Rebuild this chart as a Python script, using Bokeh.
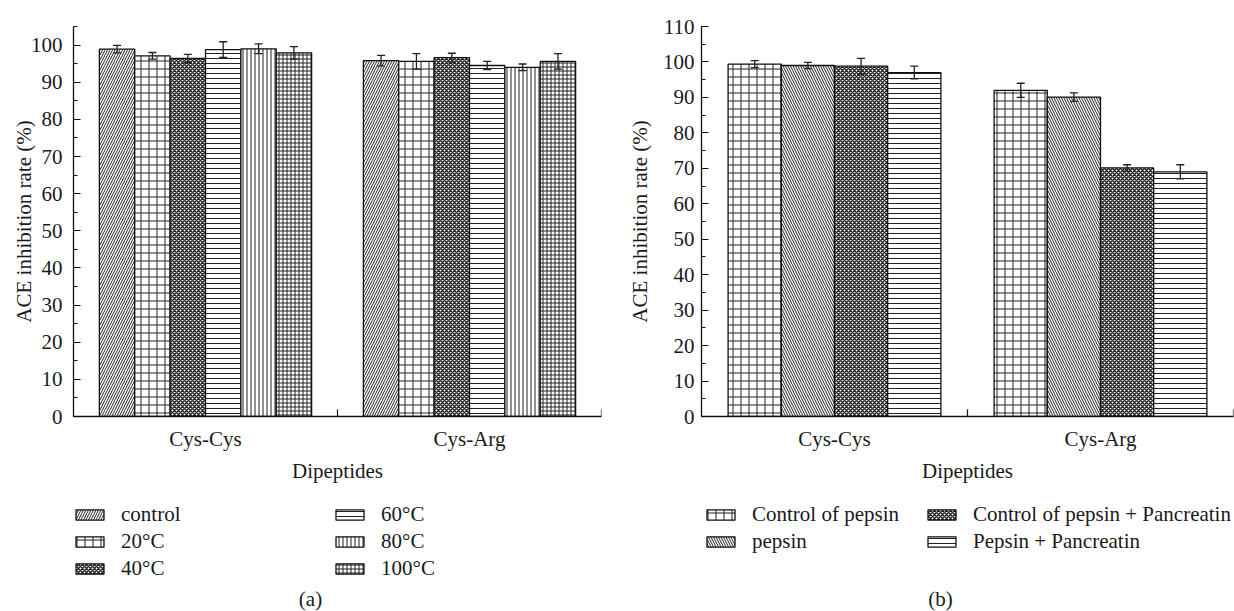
from bokeh.plotting import figure
from bokeh.models import (ColumnDataSource, FactorRange, Range1d, Whisker, TeeHead,
                          Legend, LegendItem, Label, SingleIntervalTicker)
from bokeh.transform import dodge
from bokeh.layouts import row, column
from bokeh.embed import file_html
from bokeh.resources import INLINE

# ---------------- data ----------------
dipeptides = ["Cys-Cys", "Cys-Arg"]

temp_series = ["control", "20°C", "40°C", "60°C", "80°C", "100°C"]
temp_cyscys = [98.9, 97.1, 96.4, 98.8, 99.0, 97.9]
temp_cyscys_err = [1.0, 0.9, 1.1, 2.1, 1.3, 1.7]
temp_cysarg = [95.8, 95.6, 96.6, 94.5, 94.0, 95.6]
temp_cysarg_err = [1.4, 2.1, 1.2, 1.1, 0.9, 2.1]

digest_series = ["Control of pepsin", "pepsin", "Control of pepsin + Pancreatin", "Pepsin + Pancreatin"]
digest_cyscys = [99.4, 99.0, 98.8, 97.0]
digest_cyscys_err = [1.0, 0.9, 2.2, 1.8]
digest_cysarg = [92.0, 90.1, 70.1, 69.0]
digest_cysarg_err = [2.0, 1.2, 0.9, 2.0]

y_label = "ACE inhibition rate (%)"
x_label = "Dipeptides"

FONT = "Liberation Serif"
FS = "21px"
TXT = "#1a1a1a"

# hatch styles (pattern, scale, weight)
temp_hatch = [("/", 5, 1.0), ("+", 8, 1.0), ("x", 4, 1.5), ("-", 5, 1.0), ("|", 4, 1.0), ("+", 4, 1.0)]
digest_hatch = [("+", 8, 1.0), ("\\", 5, 1.0), ("x", 4, 1.5), ("-", 5, 1.0)]

BAR_STYLE = dict(fill_color="white", line_color="#111111", line_width=1.3, hatch_color="#222222")


def make_panel(series, v1, e1, v2, e2, hatches, y_end, width, height, bl, br, bt, bb,
               bar_w, ylab_standoff, ytick_standoff):
    p = figure(x_range=FactorRange(*dipeptides, range_padding=0), y_range=Range1d(0, y_end),
               width=width, height=height, min_border_left=bl, min_border_right=br,
               min_border_top=bt, min_border_bottom=bb, output_backend="svg",
               toolbar_location=None, outline_line_color=None)
    p.xgrid.visible = False
    p.ygrid.visible = False

    n = len(series)
    sources = []
    for i, name in enumerate(series):
        off = (i - (n - 1) / 2) * bar_w
        src = ColumnDataSource(dict(x=dipeptides, top=[v1[i], v2[i]],
                                    upper=[v1[i] + e1[i], v2[i] + e2[i]],
                                    lower=[v1[i] - e1[i], v2[i] - e2[i]]))
        sources.append(src)
        pat, sc, wt = hatches[i]
        p.vbar(x=dodge("x", off, range=p.x_range), top="top", bottom=0, width=bar_w, source=src,
               hatch_pattern=pat, hatch_scale=sc, hatch_weight=wt, **BAR_STYLE)
        w = Whisker(base=dodge("x", off, range=p.x_range), upper="upper", lower="lower", source=src,
                    line_color="#222222", line_width=1.3, level="annotation",
                    upper_head=TeeHead(size=8, line_color="#222222", line_width=1.3),
                    lower_head=TeeHead(size=8, line_color="#222222", line_width=1.3))
        p.add_layout(w)

    # small inward ticks on the x axis at the category boundaries
    frame_h = height - bt - bb
    tick_len = 7 * y_end / frame_h
    p.segment(x0=[1.0, 2.0], y0=[0, 0], x1=[1.0, 2.0], y1=[tick_len, tick_len],
              line_color="#111111", line_width=1.2)

    for ax in (p.xaxis[0], p.yaxis[0]):
        ax.axis_line_color = "#111111"
        ax.axis_line_width = 1.3
        ax.major_label_text_font = FONT
        ax.major_label_text_font_size = FS
        ax.major_label_text_color = TXT
        ax.axis_label_text_font = FONT
        ax.axis_label_text_font_size = FS
        ax.axis_label_text_font_style = "normal"
        ax.axis_label_text_color = TXT

    xa = p.xaxis[0]
    xa.axis_label = x_label
    xa.major_tick_line_color = None
    xa.major_tick_in = 0
    xa.major_tick_out = 0
    xa.major_label_standoff = 10
    xa.axis_label_standoff = 5

    ya = p.yaxis[0]
    ya.axis_label = y_label
    ya.ticker = SingleIntervalTicker(interval=10, num_minor_ticks=2)
    ya.major_tick_in = 7
    ya.major_tick_out = 0
    ya.minor_tick_in = 4
    ya.minor_tick_out = 0
    ya.major_tick_line_color = "#111111"
    ya.minor_tick_line_color = "#111111"
    ya.major_tick_line_width = 1.2
    ya.minor_tick_line_width = 1.2
    ya.major_label_standoff = ytick_standoff
    ya.axis_label_standoff = ylab_standoff
    return p, sources


def make_legend(series, sources, hatches, width, height, cols, col_x, bottom_y, tag, tag_xy):
    # a strip below the chart that only carries the legend (its glyphs are hidden)
    lf = figure(width=width, height=height, x_range=FactorRange(*dipeptides),
                y_range=Range1d(-2, -1), x_axis_type=None, y_axis_type=None, min_border=0,
                output_backend="svg", toolbar_location=None, outline_line_color=None)
    lf.xgrid.visible = False
    lf.ygrid.visible = False
    rs = []
    for k, s in enumerate(series):
        pat, sc, wt = hatches[k]
        rs.append(lf.vbar(x="x", top="top", bottom=0, width=0.1, source=sources[k], visible=False,
                          hatch_pattern=pat, hatch_scale=sc, hatch_weight=wt, **BAR_STYLE))
    for c, idxs in enumerate(cols):
        leg = Legend(items=[LegendItem(label=series[k], renderers=[rs[k]]) for k in idxs],
                     location=(col_x[c], bottom_y), orientation="vertical", click_policy="none",
                     glyph_width=35, glyph_height=13, label_standoff=14, spacing=2,
                     padding=0, margin=0, border_line_color=None, background_fill_alpha=0,
                     inactive_fill_alpha=0,
                     label_text_font=FONT, label_text_font_size=FS, label_text_color=TXT)
        lf.add_layout(leg)
    lf.add_layout(Label(x=tag_xy[0], y=tag_xy[1], x_units="screen", y_units="screen", text=tag,
                        text_align="center", text_baseline="middle", text_font=FONT,
                        text_font_size=FS, text_color=TXT))
    return lf


TOP_H = 485
BOT_H = 611 - TOP_H

pa, src_a = make_panel(temp_series, temp_cyscys, temp_cyscys_err, temp_cysarg, temp_cysarg_err,
                       temp_hatch, 105, 608, TOP_H, 73, 7, 26, TOP_H - 420, 0.134, -8, 11)
pb, src_b = make_panel(digest_series, digest_cyscys, digest_cyscys_err, digest_cysarg,
                       digest_cysarg_err, digest_hatch, 110, 626, TOP_H, 93, 1, 23, TOP_H - 418,
                       0.2, 8, 7)

la = make_legend(temp_series, src_a, temp_hatch, 608, BOT_H, [[0, 1, 2], [3, 4, 5]], [72, 332], 30,
                 "(a)", (310, 13))
lb = make_legend(digest_series, src_b, digest_hatch, 626, BOT_H, [[0, 1], [2, 3]], [95, 316], 57,
                 "(b)", (332, 13))

layout = column(row(pa, pb), row(la, lb))
open("out.html", "w").write(file_html(layout, INLINE))
